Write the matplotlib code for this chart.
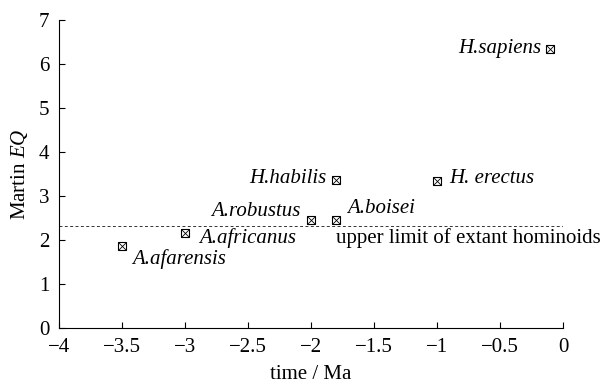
import numpy as np
import matplotlib
matplotlib.use("Agg")
import matplotlib.pyplot as plt

plt.rcParams['font.family'] = 'Liberation Serif'
plt.rcParams['mathtext.fontset'] = 'custom'
plt.rcParams['mathtext.rm'] = 'Liberation Serif'
plt.rcParams['mathtext.it'] = 'Liberation Serif:italic'

# species, time (Ma) and Martin EQ
species = ['A.afarensis', 'A.africanus', 'A.robustus', 'A.boisei',
           'H.habilis', 'H. erectus', 'H.sapiens']
time_ma = [-3.5, -3.0, -2.0, -1.8, -1.8, -1.0, -0.1]
eq = [1.86, 2.15, 2.46, 2.46, 3.36, 3.35, 6.34]
extant_limit = 2.32

# label placement: (dx px, dy px, ha)
offsets = [(10, -18, 'left'), (14, -10, 'left'), (-10, 4, 'right'),
           (11, 7, 'left'), (-10, -3, 'right'), (12, -2, 'left'),
           (-9, -4, 'right')]

fig = plt.figure(figsize=(6.05, 3.85), dpi=100)
ax = fig.add_axes([0.0975, 0.148, 0.833, 0.800])

ax.plot([-4, 0], [extant_limit, extant_limit], ls=(0, (3, 2.5)), lw=0.7,
        color='#333333')
ax.plot(time_ma, eq, 's', ms=5.5, mfc='none', mec='black', mew=0.8, ls='none')
ax.plot(time_ma, eq, 'x', ms=5.5, mec='black', mew=0.6, ls='none')

for name, x, y, (dx, dy, ha) in zip(species, time_ma, eq, offsets):
    ax.annotate(name, (x, y), xytext=(dx * 0.72, dy * 0.72),
                textcoords='offset points', ha=ha, va='baseline',
                fontsize=15, style='italic', annotation_clip=False)

ax.annotate('upper limit of extant hominoids', (-1.8, extant_limit),
            xytext=(0, -17 * 0.72), textcoords='offset points',
            ha='left', va='baseline', fontsize=15, annotation_clip=False)

ax.set_xlim(-4, 0)
ax.set_ylim(0, 7)
ax.set_xticks([-4, -3.5, -3, -2.5, -2, -1.5, -1, -0.5, 0])
ax.set_xticklabels(['\u22124', '\u22123.5', '\u22123', '\u22122.5', '\u22122',
                    '\u22121.5', '\u22121', '\u22120.5', '0'])
ax.set_yticks(range(8))
ax.spines['top'].set_visible(False)
ax.spines['right'].set_visible(False)
for s in ('left', 'bottom'):
    ax.spines[s].set_linewidth(0.8)
ax.tick_params(direction='in', length=4, width=0.8, labelsize=15)
ax.tick_params(axis='x', pad=7)
ax.tick_params(axis='y', pad=7)
ax.set_xlabel('time / Ma', fontsize=15, labelpad=6)
ax.set_ylabel('Martin $EQ$', fontsize=15, labelpad=6)

fig.savefig('out.png', dpi=100)
